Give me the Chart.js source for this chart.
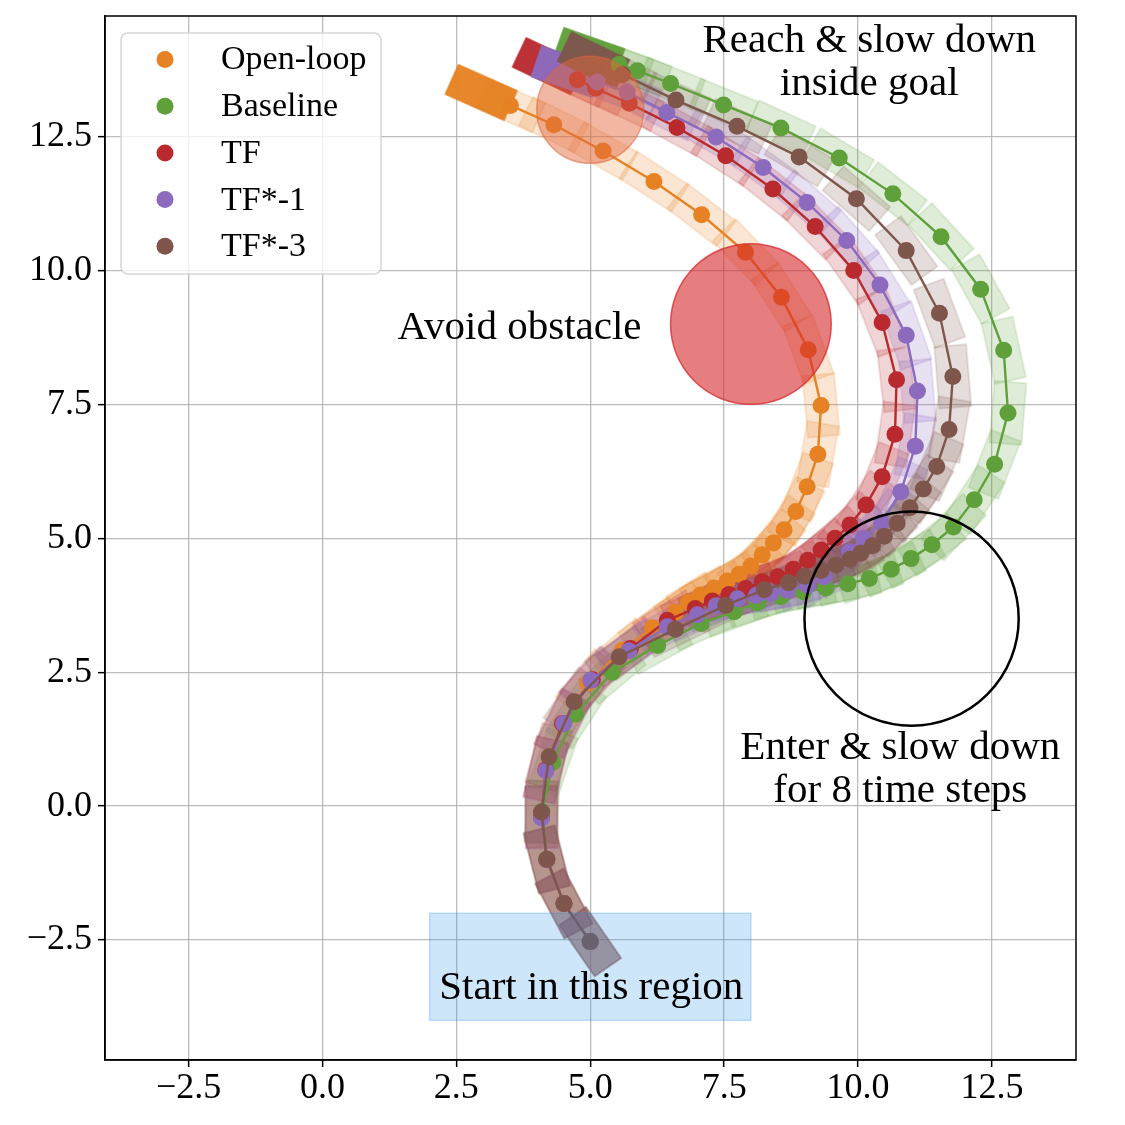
<!DOCTYPE html>
<html><head><meta charset="utf-8">
<script src="https://cdn.jsdelivr.net/npm/chart.js@4.4.1/dist/chart.umd.min.js"></script>
<style>html,body{margin:0;padding:0;background:#fff}#wrap{width:1125px;height:1125px;position:relative}</style>
</head><body><div id="wrap"><canvas id="c"></canvas></div>
<script>
// ---------- data ----------
const seriesNames = ['Open-loop', 'Baseline', 'TF', 'TF*-1', 'TF*-3'];

const openLoopX = [5.0, 4.51, 4.19, 4.09, 4.17, 4.48, 4.95, 5.6, 6.16, 6.59, 6.83, 7.06, 7.31, 7.56, 7.78, 8.0, 8.21, 8.42, 8.62, 8.84, 9.05, 9.25, 9.31, 9.07, 8.57, 7.9, 7.08, 6.19, 5.24, 4.32, 3.51];
const openLoopY = [-2.53, -1.82, -1.0, -0.2, 0.68, 1.54, 2.3, 2.91, 3.33, 3.62, 3.8, 3.94, 4.07, 4.2, 4.33, 4.48, 4.69, 4.91, 5.16, 5.5, 5.96, 6.57, 7.48, 8.52, 9.5, 10.34, 11.04, 11.66, 12.23, 12.72, 13.08];

const baselineX = [5.0, 4.51, 4.19, 4.1, 4.3, 4.73, 5.41, 6.26, 7.07, 7.69, 8.12, 8.56, 8.98, 9.4, 9.81, 10.21, 10.62, 10.99, 11.38, 11.78, 12.17, 12.55, 12.8, 12.72, 12.29, 11.55, 10.65, 9.65, 8.56, 7.49, 6.5, 5.88, 5.54];
const baselineY = [-2.53, -1.82, -0.99, -0.1, 0.82, 1.72, 2.5, 3.0, 3.41, 3.63, 3.79, 3.91, 4.0, 4.07, 4.15, 4.25, 4.42, 4.62, 4.88, 5.21, 5.72, 6.38, 7.34, 8.51, 9.65, 10.63, 11.43, 12.1, 12.66, 13.09, 13.49, 13.73, 13.85];

const tfX = [5.0, 4.51, 4.19, 4.09, 4.17, 4.48, 5.04, 5.75, 6.44, 6.96, 7.28, 7.59, 7.9, 8.21, 8.5, 8.79, 9.06, 9.31, 9.57, 9.85, 10.15, 10.45, 10.69, 10.72, 10.45, 9.92, 9.2, 8.41, 7.53, 6.62, 5.73, 5.1, 4.76];
const tfY = [-2.53, -1.82, -1.0, -0.2, 0.68, 1.54, 2.36, 2.94, 3.47, 3.69, 3.83, 3.95, 4.06, 4.19, 4.28, 4.42, 4.59, 4.78, 5.0, 5.25, 5.62, 6.15, 6.94, 7.96, 9.03, 10.0, 10.82, 11.52, 12.14, 12.67, 13.12, 13.4, 13.56];

const tf1X = [5.0, 4.51, 4.19, 4.09, 4.17, 4.5, 5.01, 5.72, 6.44, 7.0, 7.35, 7.75, 8.1, 8.37, 8.68, 9.06, 9.37, 9.6, 9.84, 10.1, 10.44, 10.8, 11.07, 11.11, 10.9, 10.41, 9.79, 9.05, 8.23, 7.35, 6.43, 5.69, 5.13];
const tf1Y = [-2.53, -1.82, -1.0, -0.22, 0.66, 1.54, 2.35, 2.9, 3.35, 3.57, 3.74, 3.87, 3.93, 3.97, 4.03, 4.12, 4.28, 4.5, 4.75, 5.0, 5.29, 5.87, 6.72, 7.75, 8.79, 9.73, 10.56, 11.27, 11.92, 12.49, 12.95, 13.33, 13.52];

const tf3X = [5.0, 4.51, 4.19, 4.09, 4.23, 4.7, 5.54, 6.59, 7.53, 8.25, 8.7, 9.0, 9.31, 9.59, 9.85, 10.05, 10.27, 10.49, 10.73, 10.97, 11.22, 11.47, 11.7, 11.77, 11.52, 10.9, 9.97, 8.9, 7.74, 6.6, 5.6];
const tf3Y = [-2.53, -1.82, -0.99, -0.11, 0.92, 1.95, 2.79, 3.3, 3.75, 4.04, 4.17, 4.29, 4.4, 4.5, 4.61, 4.72, 4.86, 5.04, 5.28, 5.57, 5.92, 6.34, 7.03, 8.02, 9.2, 10.37, 11.34, 12.12, 12.69, 13.18, 13.66];

const xTickValues = [-2.5, 0.0, 2.5, 5.0, 7.5, 10.0, 12.5];
const yTickValues = [-2.5, 0.0, 2.5, 5.0, 7.5, 10.0, 12.5];

// regions: [cx, cy, r]
const goalCircle = [5.0, 13.0, 1.0];
const obstacleCircle = [8.0, 9.0, 1.5];
const enterCircle = [11.0, 3.5, 2.0];
// start region [x0, x1, y0, y1]
const startRegion = [2.0, 8.0, -4.0, -2.0];

// ---------- styles ----------
const seriesX = [openLoopX, baselineX, tfX, tf1X, tf3X];
const seriesY = [openLoopY, baselineY, tfY, tf1Y, tf3Y];
const seriesRGB = [[230,130,35],[95,160,58],[185,42,46],[140,106,190],[126,86,76]];
const FONT = "'Liberation Serif', 'Times New Roman', serif";
const rgba = (c, a) => `rgba(${c[0]},${c[1]},${c[2]},${a})`;

const annotations = [
  {lines: ['Reach & slow down', 'inside goal'], x: 10.21, y: 13.87},
  {lines: ['Avoid obstacle'], x: 3.68, y: 8.93},
  {lines: ['Enter & slow down', 'for 8 time steps'], x: 10.79, y: 0.67},
  {lines: ['Start in this region'], x: 5.02, y: -3.40},
];

function rectImage(c, alpha, L, W, forward) {
  const cv = document.createElement('canvas');
  const pad = 2;
  cv.width = (forward ? 2 * L : L) + 2 * pad;
  cv.height = W + 2 * pad;
  const g = cv.getContext('2d');
  const x0 = forward ? L + pad : pad;
  g.fillStyle = rgba(c, alpha);
  g.fillRect(x0, pad, L, W);
  g.strokeStyle = rgba(c, alpha);
  g.lineWidth = 1.5;
  g.strokeRect(x0, pad, L, W);
  return cv;
}
function headings(xs, ys) {
  return xs.map((_, i) => {
    const a = Math.max(0, i - 1), b = Math.min(xs.length - 1, i + 1);
    return Math.atan2(-(ys[b] - ys[a]), xs[b] - xs[a]) * 180 / Math.PI;
  });
}

const layers = [];
// light footprints
seriesX.forEach((xs, s) => {
  const ys = seriesY[s];
  layers.push({
    type: 'scatter', label: '_rect' + s,
    data: xs.map((x, i) => ({x, y: ys[i]})),
    showLine: false, pointRadius: 1, pointHoverRadius: 1,
    pointStyle: rectImage(seriesRGB[s], 0.2, 62, 32, false),
    pointRotation: headings(xs, ys),
  });
});
// final solid footprints
seriesX.forEach((xs, s) => {
  const ys = seriesY[s], n = xs.length;
  layers.push({
    type: 'scatter', label: '_final' + s,
    data: [{x: xs[n - 1], y: ys[n - 1]}],
    showLine: false, pointRadius: 1, pointHoverRadius: 1,
    pointStyle: rectImage(seriesRGB[s], 0.97, 64, 32, true),
    pointRotation: [Math.atan2(-(ys[n - 1] - ys[n - 2]), xs[n - 1] - xs[n - 2]) * 180 / Math.PI],
  });
});
// trajectories
seriesX.forEach((xs, s) => {
  const ys = seriesY[s];
  layers.push({
    type: 'scatter', label: seriesNames[s],
    data: xs.map((x, i) => ({x, y: ys[i]})),
    showLine: true, borderColor: rgba(seriesRGB[s], 1), backgroundColor: rgba(seriesRGB[s], 1),
    borderWidth: 2.4, pointRadius: 8.5, pointHoverRadius: 8.5, pointBorderWidth: 0, tension: 0,
  });
});
layers.forEach((d, i) => { d.order = layers.length - i; });

const fmt = v => (v < 0 ? '\u2212' : '') + Math.abs(v).toFixed(1);

const shapesPlugin = {
  id: 'shapes',
  afterDatasetsDraw(chart) {
    const {ctx, chartArea: a, scales: {x, y}} = chart;
    const unit = (x.getPixelForValue(1) - x.getPixelForValue(0));
    ctx.save();
    ctx.beginPath(); ctx.rect(a.left, a.top, a.right - a.left, a.bottom - a.top); ctx.clip();
    const circ = (c, fill, stroke, lw) => {
      ctx.beginPath();
      ctx.arc(x.getPixelForValue(c[0]), y.getPixelForValue(c[1]), c[2] * unit, 0, Math.PI * 2);
      if (fill) { ctx.fillStyle = fill; ctx.fill(); }
      if (stroke) { ctx.strokeStyle = stroke; ctx.lineWidth = lw; ctx.stroke(); }
    };
    circ(goalCircle, 'rgba(225,105,60,0.48)', 'rgba(220,100,60,0.55)', 1.5);
    circ(obstacleCircle, 'rgba(214,39,40,0.6)', 'rgba(214,39,40,0.75)', 1.5);
    circ(enterCircle, null, '#000', 2.5);
    const x0 = x.getPixelForValue(startRegion[0]), x1 = x.getPixelForValue(startRegion[1]);
    const y0 = y.getPixelForValue(startRegion[2]), y1 = y.getPixelForValue(startRegion[3]);
    ctx.fillStyle = 'rgba(30,140,230,0.22)';
    ctx.fillRect(x0, y1, x1 - x0, y0 - y1);
    ctx.strokeStyle = 'rgba(30,140,230,0.25)'; ctx.lineWidth = 1.5;
    ctx.strokeRect(x0, y1, x1 - x0, y0 - y1);
    ctx.restore();

    // annotations
    ctx.save();
    ctx.fillStyle = '#000';
    ctx.font = `41px ${FONT}`;
    ctx.textAlign = 'center'; ctx.textBaseline = 'middle';
    const lh = 43;
    annotations.forEach(t => {
      const px = x.getPixelForValue(t.x), py = y.getPixelForValue(t.y);
      const n = t.lines.length;
      t.lines.forEach((ln, i) => ctx.fillText(ln, px, py + (i - (n - 1) / 2) * lh));
    });
    ctx.restore();

    // frame
    ctx.save();
    ctx.strokeStyle = '#000'; ctx.lineWidth = 1.5;
    ctx.strokeRect(a.left, a.top, a.right - a.left, a.bottom - a.top);
    ctx.restore();
  },
  afterDraw(chart) {
    const {ctx} = chart;
    ctx.save();
    const bx = 121, by = 33, bw = 260, bh = 241, r = 7;
    ctx.beginPath();
    ctx.moveTo(bx + r, by); ctx.arcTo(bx + bw, by, bx + bw, by + bh, r);
    ctx.arcTo(bx + bw, by + bh, bx, by + bh, r); ctx.arcTo(bx, by + bh, bx, by, r);
    ctx.arcTo(bx, by, bx + bw, by, r); ctx.closePath();
    ctx.fillStyle = 'rgba(255,255,255,0.8)'; ctx.fill();
    ctx.strokeStyle = 'rgba(204,204,204,0.8)'; ctx.lineWidth = 1.5; ctx.stroke();
    ctx.font = `34px ${FONT}`; ctx.textBaseline = 'middle'; ctx.textAlign = 'left';
    seriesNames.forEach((name, i) => {
      const yy = 59.5 + i * 46.7;
      ctx.beginPath(); ctx.arc(165, yy, 8.5, 0, Math.PI * 2);
      ctx.fillStyle = rgba(seriesRGB[i], 1); ctx.fill();
      ctx.fillStyle = '#000'; ctx.fillText(name, 221, yy + 1);
    });
    ctx.restore();
  }
};

const gridCommon = {color: 'rgba(176,176,176,0.85)', lineWidth: 1.3, tickColor: '#000', tickLength: 7, tickWidth: 1.5};
new Chart(document.getElementById('c'), {
  type: 'scatter',
  data: {datasets: layers},
  options: {
    responsive: true, maintainAspectRatio: false, animation: false, events: [],
    layout: {padding: {top: 16, right: 49, left: 0, bottom: 0}},
    plugins: {legend: {display: false}, tooltip: {enabled: false}},
    scales: {
      x: {
        type: 'linear', min: -4.06, max: 14.07,
        afterBuildTicks: ax => { ax.ticks = xTickValues.map(v => ({value: v})); },
        afterFit: ax => { ax.height = 65; ax.paddingLeft = 0; ax.paddingRight = 0; },
        grid: gridCommon,
        border: {display: true, color: '#000', width: 1.5},
        ticks: {font: {family: FONT, size: 36}, color: '#000', padding: 0, callback: fmt, maxRotation: 0},
      },
      y: {
        type: 'linear', min: -4.74, max: 14.75,
        afterBuildTicks: ax => { ax.ticks = yTickValues.map(v => ({value: v})); },
        afterFit: ax => { ax.width = 105; ax.paddingTop = 0; ax.paddingBottom = 0; },
        grid: gridCommon,
        border: {display: true, color: '#000', width: 1.5},
        ticks: {font: {family: FONT, size: 36}, color: '#000', padding: 6, callback: fmt},
      }
    }
  },
  plugins: [shapesPlugin]
});
</script></body></html>
